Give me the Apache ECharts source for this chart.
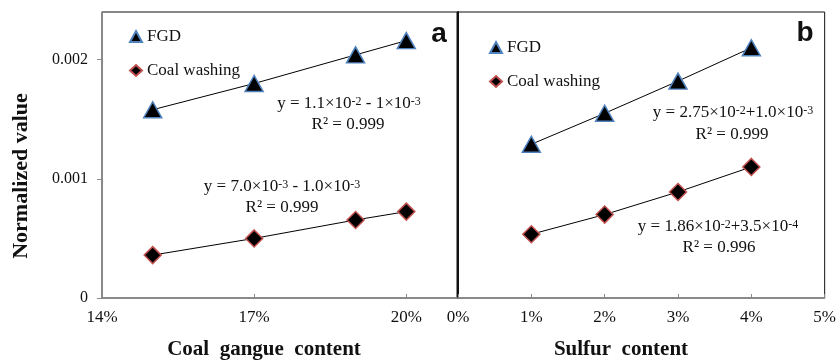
<!DOCTYPE html>
<html>
<head>
<meta charset="utf-8">
<script src="https://cdn.jsdelivr.net/npm/echarts@6/dist/echarts.min.js"></script>
<style>html,body{margin:0;padding:0;background:#fff}#c{width:839px;height:360px}</style>
</head>
<body>
<div id="c"></div>
<script>
// ---- data ----
const gangueX = [15, 17, 19, 20];               // coal gangue content (%)
const fgdGangue = [0.00158, 0.00180, 0.00204, 0.00216];
const coalGangue = [0.00036, 0.00050, 0.000655, 0.000725];
const sulfurX = [1, 2, 3, 4];                   // sulfur content (%)
const fgdSulfur = [0.00129, 0.00155, 0.00182, 0.00210];
const coalSulfur = [0.000535, 0.00070, 0.00089, 0.00110];
const yTicks = [0, 0.001, 0.002];
const seriesNames = ['FGD', 'Coal washing'];

const SERIF = '"Liberation Serif", "Times New Roman", serif';
const chart = echarts.init(document.getElementById('c'), null, {renderer: 'canvas'});

function pairs(xs, ys) { return xs.map((x, i) => [x, ys[i]]); }

const triStyle = {color: '#000', borderColor: '#4F81BD', borderWidth: 1.5};
const diaStyle = {color: '#000', borderColor: '#C0504D', borderWidth: 1.5};

function mkSeries(name, xi, data, isTri) {
  return {
    name: name, type: 'line', xAxisIndex: xi, yAxisIndex: xi, data: data,
    symbol: isTri ? 'triangle' : 'diamond',
    symbolSize: isTri ? [18, 16] : [17, 17],
    itemStyle: isTri ? triStyle : diaStyle,
    lineStyle: {color: '#000', width: 1},
    animation: false, z: 3
  };
}

const axisGray = '#8a8a8a';
function yAx(gi, showLabels) {
  return {
    type: 'value', gridIndex: gi, min: 0, max: 0.0024, interval: 0.001,
    axisLine: {show: true, lineStyle: {color: showLabels ? axisGray : '#111', width: showLabels ? 1.5 : 2}},
    axisTick: {show: showLabels, inside: false, length: 5, lineStyle: {color: axisGray}},
    axisLabel: {
      show: showLabels, showMaxLabel: false, margin: 14,
      fontFamily: SERIF, fontSize: 16, color: '#111',
      formatter: v => { const t = yTicks.find(k => Math.abs(k - v) < 1e-9); return t === undefined ? '' : (t === 0 ? '0' : t.toFixed(3)); }
    },
    splitLine: {show: false}
  };
}
function xAx(gi, min, max, interval) {
  return {
    type: 'value', gridIndex: gi, min: min, max: max, interval: interval,
    axisLine: {show: true, onZero: false, lineStyle: {color: axisGray, width: 1.5}},
    axisTick: {show: true, inside: true, length: 4, lineStyle: {color: axisGray}},
    axisLabel: {
      showMaxLabel: gi === 1, margin: 11, fontFamily: SERIF, fontSize: 17, color: '#111',
      formatter: v => Math.round(v) + '%'
    },
    splitLine: {show: false}
  };
}

function eqText(x, y, txt) {
  return {
    type: 'text', x: x, y: y, z: 10,
    style: {
      text: txt, textAlign: 'center', textVerticalAlign: 'middle',
      fontFamily: SERIF, fontSize: 17, fill: '#111',
      rich: {s: {fontFamily: SERIF, fontSize: 12, verticalAlign: 'top', fill: '#111'}}
    }
  };
}

const option = {
  backgroundColor: '#fff',
  animation: false,
  grid: [
    {left: 102, top: 12, width: 355, height: 286, show: true, borderColor: '#111', borderWidth: 1, backgroundColor: 'transparent'},
    {left: 458, top: 12, width: 368, height: 286, show: true, borderColor: '#111', borderWidth: 1, backgroundColor: 'transparent'}
  ],
  xAxis: [xAx(0, 14, 21, 3), xAx(1, 0, 5, 1)],
  yAxis: [yAx(0, true), yAx(1, false)],
  legend: [
    {left: 124, top: 23, orient: 'vertical', itemGap: 17, itemWidth: 12, itemHeight: 11, selectedMode: false,
     data: [{name: seriesNames[0], icon: 'triangle'}, {name: seriesNames[1], icon: 'diamond'}],
     textStyle: {fontFamily: SERIF, fontSize: 17, color: '#111'}},
    {left: 484, top: 34, orient: 'vertical', itemGap: 17, itemWidth: 12, itemHeight: 11, selectedMode: false,
     data: [{name: seriesNames[0], icon: 'triangle'}, {name: seriesNames[1], icon: 'diamond'}],
     textStyle: {fontFamily: SERIF, fontSize: 17, color: '#111'}}
  ],
  series: [
    mkSeries(seriesNames[0], 0, pairs(gangueX, fgdGangue), true),
    mkSeries(seriesNames[1], 0, pairs(gangueX, coalGangue), false),
    mkSeries(seriesNames[0], 1, pairs(sulfurX, fgdSulfur), true),
    mkSeries(seriesNames[1], 1, pairs(sulfurX, coalSulfur), false)
  ],
  graphic: [
    eqText(349, 104, 'y = 1.1×10{s|-2} - 1×10{s|-3}'),
    eqText(348, 125, 'R² = 0.999'),
    eqText(282, 187, 'y = 7.0×10{s|-3} - 1.0×10{s|-3}'),
    eqText(282, 208, 'R² = 0.999'),
    eqText(733, 113, 'y = 2.75×10{s|-2}+1.0×10{s|-3}'),
    eqText(732, 135, 'R² = 0.999'),
    eqText(718, 227, 'y = 1.86×10{s|-2}+3.5×10{s|-4}'),
    eqText(719, 248, 'R² = 0.996'),
    {type: 'text', x: 439, y: 34, z: 10, style: {text: 'a', textAlign: 'center', textVerticalAlign: 'middle',
      fontFamily: '"Liberation Sans", Arial, sans-serif', fontWeight: 'bold', fontSize: 28, fill: '#111'}},
    {type: 'text', x: 805, y: 33, z: 10, style: {text: 'b', textAlign: 'center', textVerticalAlign: 'middle',
      fontFamily: '"Liberation Sans", Arial, sans-serif', fontWeight: 'bold', fontSize: 28, fill: '#111'}},
    {type: 'text', x: 264, y: 350, z: 10, style: {text: 'Coal  gangue  content', textAlign: 'center', textVerticalAlign: 'middle',
      fontFamily: SERIF, fontWeight: 'bold', fontSize: 21, fill: '#111'}},
    {type: 'text', x: 621, y: 350, z: 10, style: {text: 'Sulfur  content', textAlign: 'center', textVerticalAlign: 'middle',
      fontFamily: SERIF, fontWeight: 'bold', fontSize: 21, fill: '#111'}},
    {type: 'text', x: 21, y: 176, rotation: Math.PI / 2, z: 10, style: {text: 'Normalized value', textAlign: 'center', textVerticalAlign: 'middle',
      fontFamily: SERIF, fontWeight: 'bold', fontSize: 22, fill: '#111'}}
  ]
};
chart.setOption(option);
</script>
</body>
</html>
